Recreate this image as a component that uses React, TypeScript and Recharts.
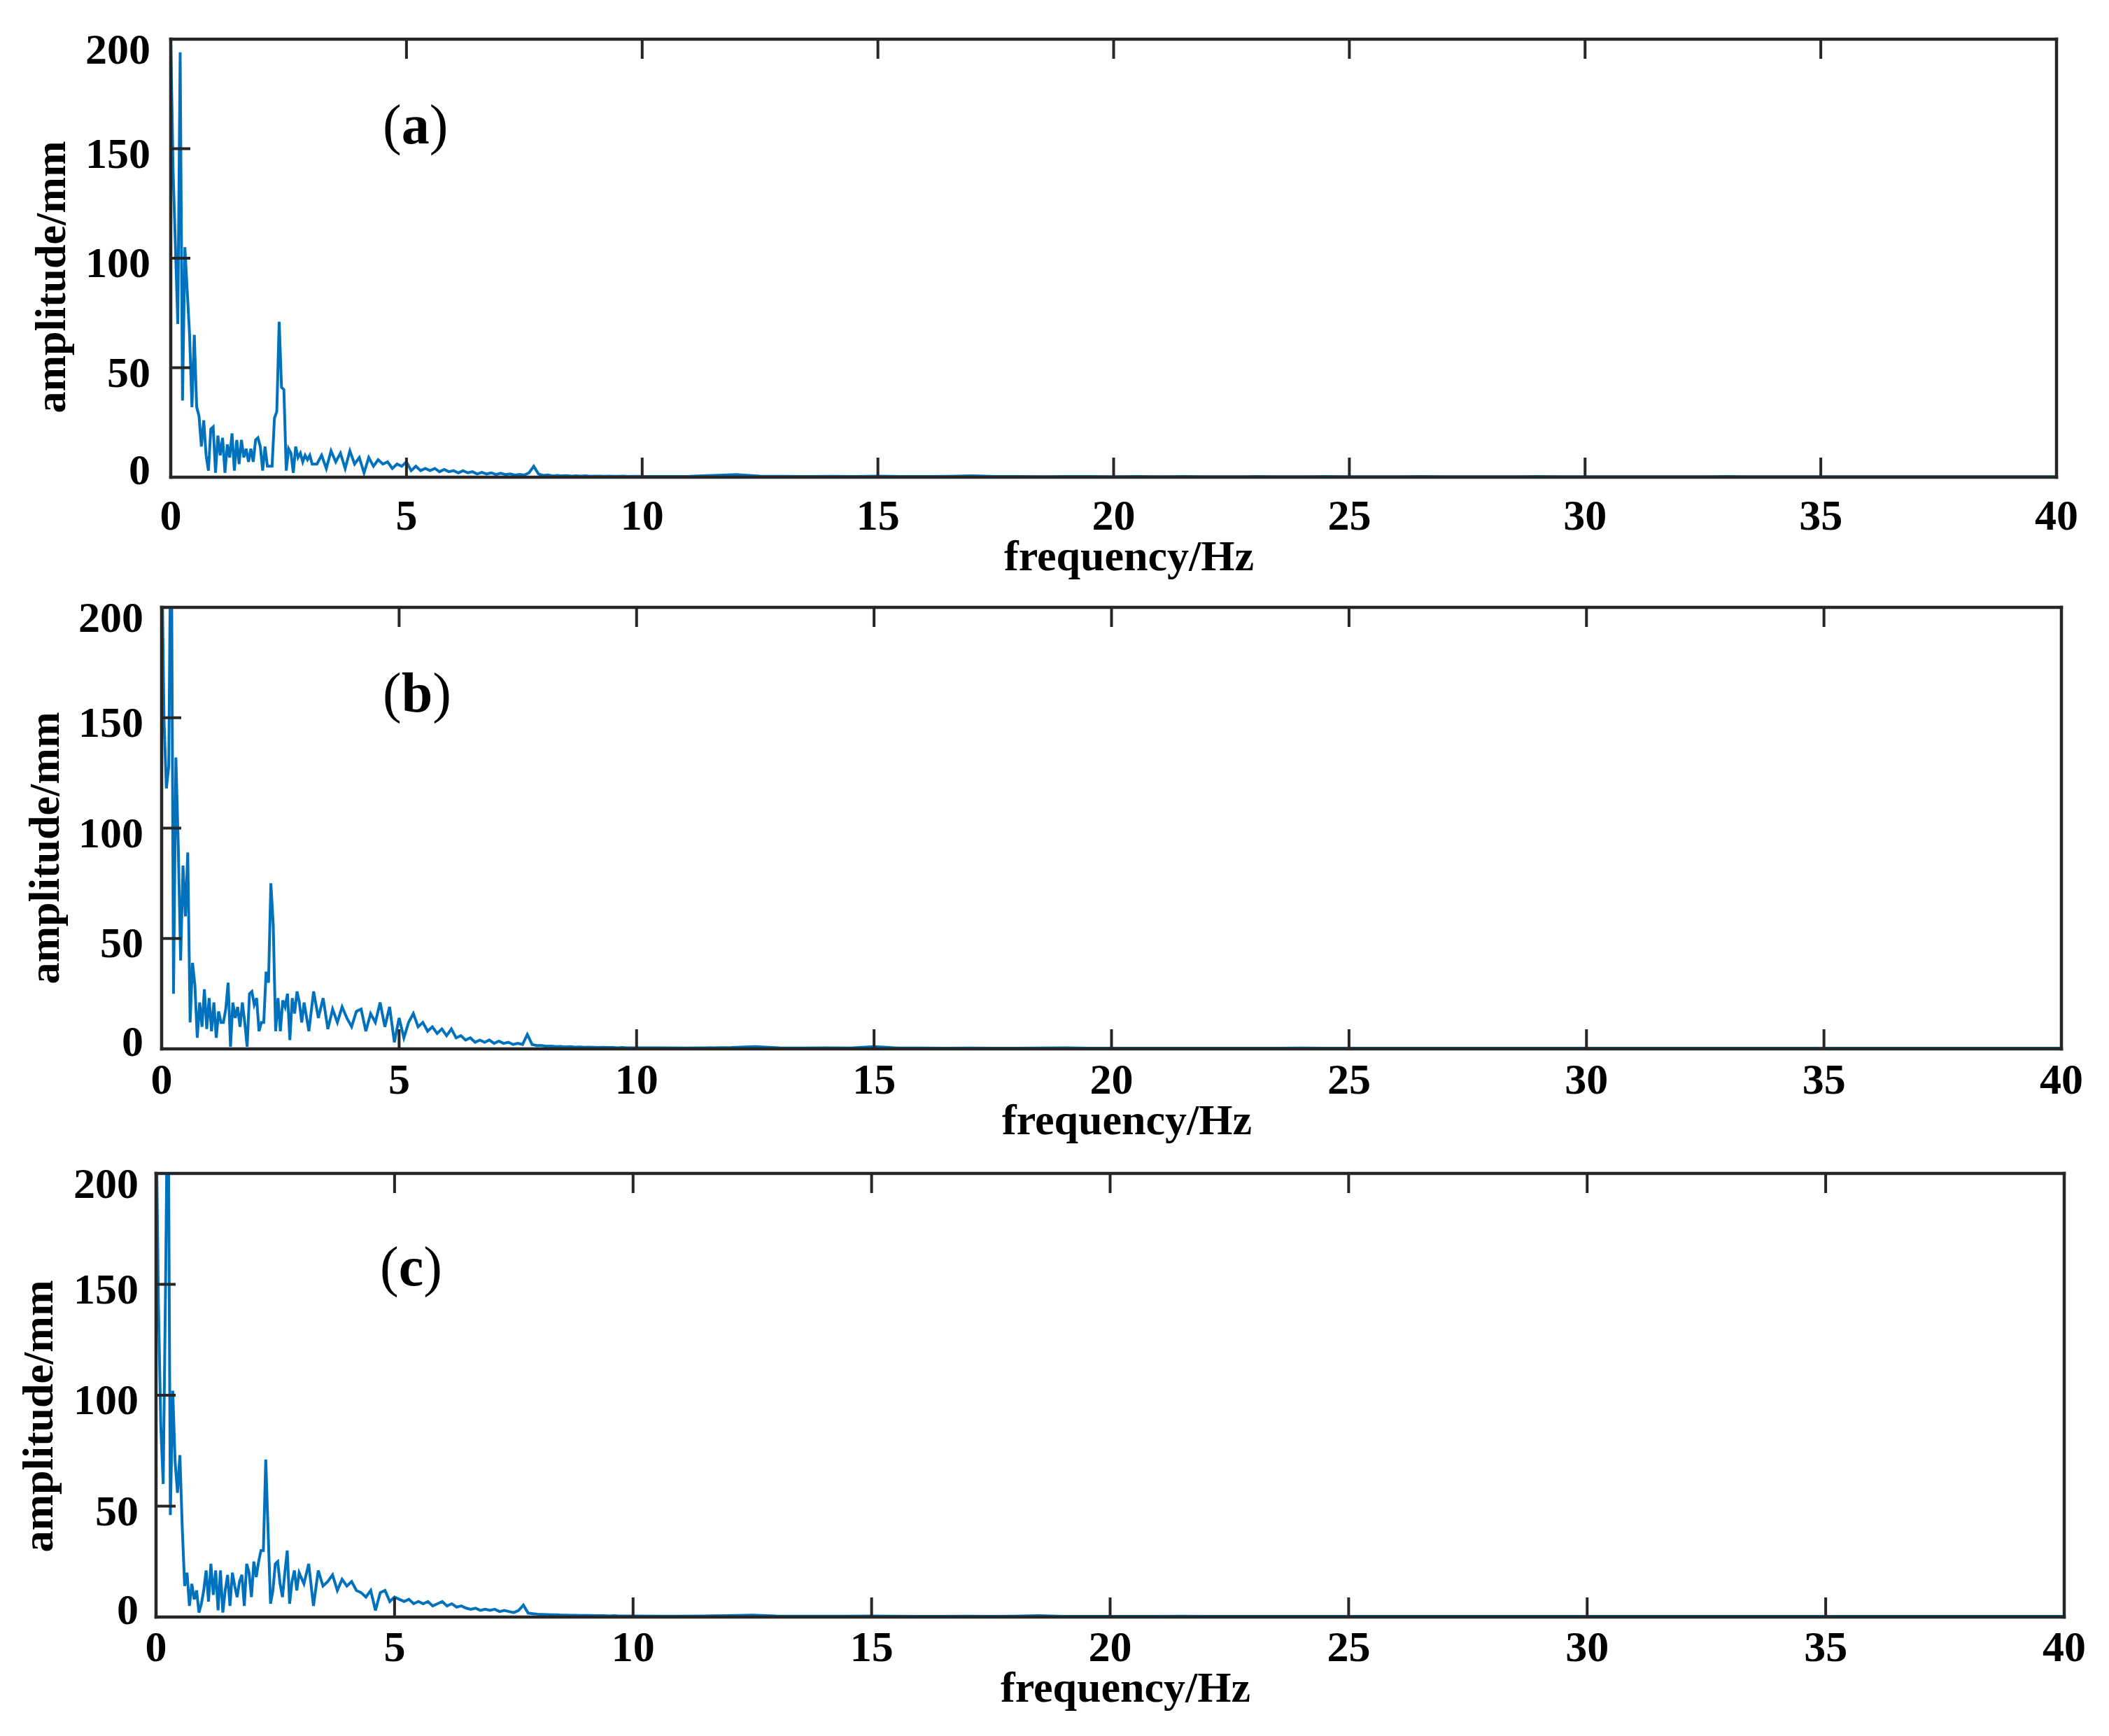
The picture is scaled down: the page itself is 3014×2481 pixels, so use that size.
import { LineChart, Line, XAxis, YAxis, Label } from 'recharts';

// FFT bin widths used for the three frequency bands
const LOW_STEP = 0.05; // 0 - 3 Hz
const MID_STEP = 0.1; // 3.1 - 10 Hz
const HIGH_STEP = 0.5; // 10.5 - 40 Hz

const xTicks = [0, 5, 10, 15, 20, 25, 30, 35, 40];
const yTicks = [0, 50, 100, 150, 200];

// (a)
const aLow = [
	200, 140, 105, 70, 194, 35, 105, 85, 65, 32, 65, 32, 28, 14, 26, 10, 3, 22, 23, 2,
	19, 10, 18, 2, 15, 9, 20, 3, 17, 6, 17, 9, 13, 7, 13, 7, 17, 18, 14, 3,
	14, 5, 5, 5, 27, 30, 71, 41, 40, 3, 13, 11, 2, 14, 9, 11, 7, 10, 8, 10, 6,
];
const aMid = [
	6, 10, 4, 12, 7, 11, 4, 12, 6,
	9, 2, 9, 5, 8, 6, 7, 4, 6, 5,
	7, 3, 5, 3, 4, 3, 4, 2.5, 3.5, 2.5,
	3, 2, 3, 2, 2.5, 1.5, 2.2, 1.5, 2, 1.2,
	1.8, 1.2, 1.5, 1, 1.3, 1, 2, 5, 1.5, 0.8,
	1, 0.6, 0.8, 0.6, 0.7, 0.5, 0.6, 0.5, 0.6, 0.4,
	0.5, 0.5, 0.4, 0.5, 0.4, 0.4, 0.5, 0.3, 0.4, 0.4,
	0.3,
];
const aHigh = [
	0.3, 0.4, 0.8, 1.2, 0.5, 0.4, 0.3, 0.4, 0.3, 0.5, 0.3, 0.3, 0.4, 0.6, 0.3, 0.3, 0.2, 0.3, 0.3, 0.2,
	0.3, 0.2, 0.3, 0.2, 0.2, 0.3, 0.2, 0.2, 0.3, 0.2, 0.2, 0.2, 0.3, 0.2, 0.2, 0.2, 0.2, 0.3, 0.2, 0.2,
	0.2, 0.2, 0.2, 0.2, 0.2, 0.3, 0.2, 0.2, 0.2, 0.2, 0.2, 0.2, 0.2, 0.2, 0.2, 0.2, 0.2, 0.2, 0.2, 0.2,
];

// (b)
const bLow = [
	230, 149, 118, 128, 260, 25, 132, 92, 40, 83, 60, 89, 12, 39, 29, 5, 21, 10, 27, 9,
	23, 8, 21, 5, 17, 12, 12, 18, 30, 1, 21, 14, 19, 10, 21, 12, 1, 25, 26, 20,
	23, 8, 12, 12, 35, 30, 75, 56, 8, 23, 8, 22, 19, 25, 4, 23, 16, 26, 21, 12, 21,
];
const bMid = [
	8, 26, 14, 23, 9, 18, 12, 19, 14,
	10, 17, 18, 8, 16, 12, 21, 10, 19, 3,
	14, 5, 12, 16, 10, 12, 8, 10, 7, 9,
	6, 9, 5, 6, 4, 5, 3, 4, 3, 4,
	2.5, 3.5, 2.5, 3, 2, 2.5, 2, 6.5, 2, 1.5,
	1.5, 1.2, 1.3, 1, 1.1, 0.9, 1, 0.8, 0.9, 0.7,
	0.8, 0.7, 0.6, 0.7, 0.6, 0.6, 0.5, 0.6, 0.5, 0.5,
	0.5,
];
const bHigh = [
	0.5, 0.4, 0.5, 0.6, 1.0, 0.5, 0.4, 0.5, 0.4, 1.0, 0.4, 0.4, 0.3, 0.4, 0.3, 0.3, 0.4, 0.5, 0.3, 0.3,
	0.3, 0.3, 0.3, 0.3, 0.3, 0.3, 0.3, 0.4, 0.3, 0.3, 0.3, 0.3, 0.3, 0.3, 0.3, 0.3, 0.3, 0.3, 0.3, 0.3,
	0.3, 0.3, 0.3, 0.3, 0.3, 0.3, 0.3, 0.3, 0.3, 0.3, 0.3, 0.3, 0.3, 0.3, 0.3, 0.3, 0.3, 0.3, 0.3, 0.3,
];

// (c)
const cLow = [
	230, 141, 86, 60, 150, 260, 46, 102, 70, 56, 73, 40, 14, 20, 5, 15, 8, 12, 2, 6,
	12, 21, 7, 24, 10, 21, 3, 21, 2, 12, 19, 5, 20, 14, 9, 16, 19, 5, 24, 20,
	9, 25, 18, 25, 30, 30, 71, 38, 6, 12, 24, 25, 15, 9, 20, 30, 6, 16, 21, 12, 20,
];
const cMid = [
	15, 24, 5, 21, 14, 16, 19, 12, 17,
	14, 16, 12, 11, 9, 12, 3, 11, 12, 7,
	9, 8, 7, 8, 6, 7, 6, 7, 5, 6,
	7, 5, 6, 4.5, 5, 4, 3.5, 4, 3, 3.5,
	3, 3.5, 2.5, 3, 2.5, 2, 3, 5.4, 1.8, 1.5,
	1.3, 1.2, 1.1, 1, 1, 0.9, 0.9, 0.8, 0.8, 0.7,
	0.7, 0.7, 0.6, 0.6, 0.6, 0.5, 0.6, 0.5, 0.5, 0.5,
	0.5,
];
const cHigh = [
	0.4, 0.4, 0.5, 0.6, 0.9, 0.5, 0.4, 0.4, 0.4, 0.5, 0.4, 0.3, 0.3, 0.4, 0.3, 0.4, 0.6, 0.3, 0.3, 0.3,
	0.3, 0.3, 0.4, 0.3, 0.3, 0.3, 0.3, 0.3, 0.3, 0.3, 0.3, 0.3, 0.3, 0.3, 0.3, 0.3, 0.3, 0.3, 0.3, 0.3,
	0.3, 0.3, 0.3, 0.3, 0.3, 0.3, 0.3, 0.3, 0.3, 0.3, 0.3, 0.3, 0.3, 0.3, 0.3, 0.3, 0.3, 0.3, 0.3, 0.3,
];

type Row = { f: number; amp: number };

const buildSpectrum = (low: number[], mid: number[], high: number[]): Row[] => {
	const rows: Row[] = [];
	low.forEach((amp, i) => rows.push({ f: +(i * LOW_STEP).toFixed(2), amp }));
	mid.forEach((amp, i) => rows.push({ f: +(3 + (i + 1) * MID_STEP).toFixed(2), amp }));
	high.forEach((amp, i) => rows.push({ f: +(10 + (i + 1) * HIGH_STEP).toFixed(2), amp }));
	return rows;
};

const FONT = '"Liberation Serif", "Times New Roman", serif';
const AXIS = '#262626';
const LINE = '#0072BD';
const TICK_LEN = 28;

// page layout of each panel (chart box and plot box, in page pixels)
const panels = [
	{
		tag: 'a',
		data: buildSpectrum(aLow, aMid, aHigh),
		chartTop: 0,
		chartHeight: 860,
		plot: { left: 244, right: 2939, top: 56, bottom: 682 },
		xLabelDy: 75,
		yLabelGap: 29,
		yTitle: { x: 93, y: 396 },
		xTitleBaseline: 815,
		tagPos: { x: 547, y: 205 },
	},
	{
		tag: 'b',
		data: buildSpectrum(bLow, bMid, bHigh),
		chartTop: 790,
		chartHeight: 870,
		plot: { left: 231, right: 2946, top: 868, bottom: 1499 },
		xLabelDy: 64,
		yLabelGap: 26,
		yTitle: { x: 84, y: 1212 },
		xTitleBaseline: 1621,
		tagPos: { x: 547, y: 1017 },
	},
	{
		tag: 'c',
		data: buildSpectrum(cLow, cMid, cHigh),
		chartTop: 1600,
		chartHeight: 881,
		plot: { left: 223, right: 2950, top: 1677, bottom: 2311 },
		xLabelDy: 63,
		yLabelGap: 25,
		yTitle: { x: 75, y: 2024 },
		xTitleBaseline: 2432,
		tagPos: { x: 543, y: 1837 },
	},
];

const textStyle = {
	fontFamily: FONT,
	fontSize: 62,
	fontWeight: 'bold' as const,
	fill: '#000',
};

type Panel = (typeof panels)[number];

const Spectrum = ({ p }: { p: Panel }) => {
	const width = 3014;
	const plotTop = p.plot.top - p.chartTop;
	const plotHeight = p.plot.bottom - p.plot.top;
	const xAxisHeight = p.chartHeight - plotTop - plotHeight;

	const bottomTick = (props: any) => {
		const { x, y, payload } = props;
		return (
			<g>
				<line x1={x} y1={y} x2={x} y2={y - TICK_LEN} stroke={AXIS} strokeWidth={4} />
				<text x={x} y={y + p.xLabelDy} textAnchor='middle' {...textStyle}>
					{payload.value}
				</text>
			</g>
		);
	};

	const topTick = (props: any) => {
		const { x, y } = props;
		return <line x1={x} y1={y} x2={x} y2={y + TICK_LEN} stroke={AXIS} strokeWidth={4} />;
	};

	const leftTick = (props: any) => {
		const { x, y, payload } = props;
		// end labels sit a little inside the box, like the original export
		let shift = 6;
		if (payload.value === 200) shift = 14;
		if (payload.value === 0) shift = -11;
		return (
			<g>
				<line x1={x} y1={y} x2={x + TICK_LEN} y2={y} stroke={AXIS} strokeWidth={4} />
				<text x={x - p.yLabelGap} y={y + shift + 21} textAnchor='end' {...textStyle}>
					{payload.value}
				</text>
			</g>
		);
	};

	const rightTick = (props: any) => {
		const { x, y } = props;
		return <line x1={x} y1={y} x2={x - TICK_LEN} y2={y} stroke={AXIS} strokeWidth={4} />;
	};

	const axisLine = { stroke: AXIS, strokeWidth: 4.5, strokeLinecap: 'square' as const };

	return (
		<div style={{ position: 'absolute', left: 0, top: p.chartTop }}>
			<LineChart
				width={width}
				height={p.chartHeight}
				data={p.data}
				margin={{ top: plotTop - 1, right: width - p.plot.right - 1, bottom: 0, left: 0 }}
			>
				<XAxis
					type='number'
					dataKey='f'
					domain={[0, 40]}
					ticks={xTicks}
					interval={0}
					allowDataOverflow
					height={xAxisHeight}
					tickSize={0}
					tickMargin={0}
					tickLine={false}
					axisLine={axisLine}
					tick={bottomTick}
				>
					<Label
						content={() => (
							<text
								x={(p.plot.left + p.plot.right) / 2 + 22}
								y={p.xTitleBaseline - p.chartTop}
								textAnchor='middle'
								{...textStyle}
							>
								frequency/Hz
							</text>
						)}
					/>
				</XAxis>
				<XAxis
					xAxisId='top'
					orientation='top'
					type='number'
					dataKey='f'
					domain={[0, 40]}
					ticks={xTicks}
					interval={0}
					height={1}
					tickSize={0}
					tickMargin={0}
					tickLine={false}
					axisLine={axisLine}
					tick={topTick}
				/>
				<YAxis
					type='number'
					domain={[0, 200]}
					ticks={yTicks}
					interval={0}
					allowDataOverflow
					width={p.plot.left}
					tickSize={0}
					tickMargin={0}
					tickLine={false}
					axisLine={axisLine}
					tick={leftTick}
				>
					<Label
						content={() => (
							<text
								transform={`translate(${p.yTitle.x}, ${p.yTitle.y - p.chartTop}) rotate(-90)`}
								textAnchor='middle'
								{...textStyle}
							>
								amplitude/mm
							</text>
						)}
					/>
				</YAxis>
				<YAxis
					yAxisId='right'
					orientation='right'
					type='number'
					domain={[0, 200]}
					ticks={yTicks}
					interval={0}
					width={1}
					tickSize={0}
					tickMargin={0}
					tickLine={false}
					axisLine={axisLine}
					tick={rightTick}
				/>
				<Line
					type='linear'
					dataKey='amp'
					stroke={LINE}
					strokeWidth={4}
					dot={false}
					activeDot={false}
					isAnimationActive={false}
				/>
			</LineChart>
		</div>
	);
};

const App = () => {
	return (
		<div
			style={{
				position: 'absolute',
				left: 0,
				top: 0,
				width: 3014,
				height: 2481,
				background: '#fff',
				overflow: 'hidden',
			}}
		>
			{panels.map((p) => (
				<Spectrum
					key={p.tag}
					p={p}
				/>
			))}
			<svg
				width={3014}
				height={2481}
				style={{ position: 'absolute', left: 0, top: 0, pointerEvents: 'none' }}
			>
				{panels.map((p) => (
					<text
						key={p.tag}
						x={p.tagPos.x}
						y={p.tagPos.y}
						fontFamily={FONT}
						fontSize={80}
						fill='#000'
					>
						(<tspan fontWeight='bold'>{p.tag}</tspan>)
					</text>
				))}
			</svg>
		</div>
	);
};

export default App;
